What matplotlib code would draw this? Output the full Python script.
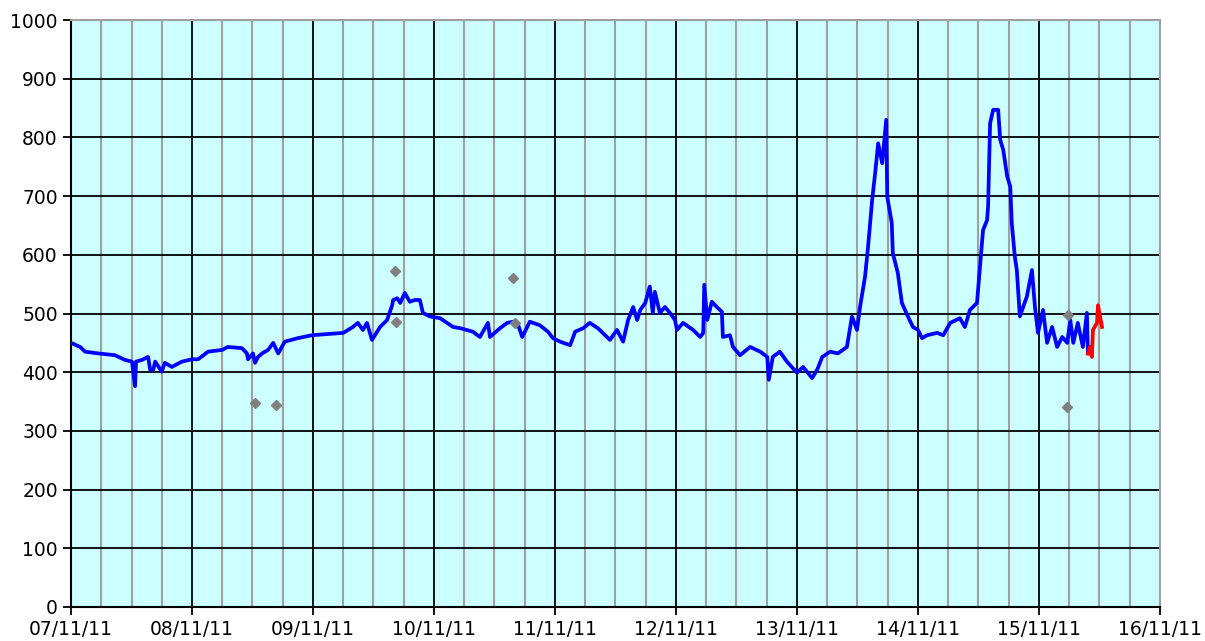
import matplotlib.pyplot as plt
from matplotlib.ticker import MultipleLocator

# Zeitachse in Stunden ab 07/11/11 00:00
tick_labels = ["07/11/11", "08/11/11", "09/11/11", "10/11/11", "11/11/11",
               "12/11/11", "13/11/11", "14/11/11", "15/11/11", "16/11/11"]

blue_h = [0, 1.8, 2.8, 5.4, 8.7, 10.7, 12.1, 12.7, 12.9, 14.1, 15.3, 15.7, 16.3, 16.7,
          18.0, 18.6, 20.0, 22.0, 24.0, 25.2, 27.2, 30.0, 31.1, 33.9, 34.9, 35.1, 36.1,
          36.5, 37.1, 37.9, 39.1, 40.1, 41.1, 42.4, 45.0, 47.8, 54.0, 55.9, 56.9, 57.9,
          58.7, 59.7, 61.3, 62.7, 63.7, 63.9, 64.7, 65.3, 66.2, 67.2, 68.2, 69.2, 69.8,
          71.2, 73.2, 75.8, 77.2, 79.7, 81.1, 82.7, 83.1, 85.1, 86.5, 87.7, 88.7, 89.5,
          91.0, 93.0, 94.6, 95.6, 97.0, 99.0, 100.0, 101.6, 102.9, 104.5, 106.9, 108.3,
          109.5, 110.5, 111.5, 112.3, 112.9, 113.9, 114.8, 115.4, 115.8, 116.8, 117.8,
          118.8, 119.8, 120.2, 121.4, 123.4, 124.8, 125.4, 125.6, 126.2, 127.1, 128.1,
          129.1, 129.3, 130.7, 131.3, 132.7, 134.7, 136.7, 138.1, 138.4, 139.2, 140.6,
          142.0, 144.0, 145.2, 147.0, 148.0, 149.0, 150.6, 152.1, 153.9, 154.9, 155.9,
          156.5, 157.5, 158.1, 158.9, 159.5, 160.1, 160.9, 161.7, 161.9, 162.8, 163.0,
          164.0, 164.8, 166.0, 167.0, 168.0, 168.8, 169.8, 171.8, 173.0, 174.4, 176.3,
          177.3, 178.3, 179.7, 180.3, 180.9, 181.7, 181.9, 182.3, 182.9, 183.9, 184.3,
          184.9, 185.7, 186.3, 186.6, 187.2, 187.6, 188.2, 189.6, 190.6, 191.2, 191.8,
          192.8, 193.6, 194.6, 195.6, 196.6, 197.6, 198.2, 198.8, 199.7, 200.7, 201.5,
          201.7]
blue_v = [450, 443, 435, 432, 429, 421, 418, 376, 418, 421, 426, 404, 404, 418,
          401, 416, 409, 418, 422, 422, 435, 438, 443, 441, 432, 422, 432,
          416, 426, 432, 438, 450, 432, 452, 458, 463, 467, 477, 484, 472,
          484, 455, 477, 489, 514, 523, 526, 518, 535, 520, 523, 523, 501,
          495, 492, 477, 475, 469, 460, 484, 460, 475, 484, 486, 480, 460,
          486, 480, 469, 458, 452, 446, 469, 475, 484, 475, 455, 472,
          452, 489, 511, 489, 506, 518, 546, 501, 537, 501, 511,
          501, 489, 472, 484, 472, 460, 467, 549, 489, 520, 511,
          503, 460, 463, 443, 429, 443, 435, 426, 387, 426, 435,
          418, 399, 409, 390, 404, 426, 435, 432, 443, 495, 472,
          511, 563, 614, 693, 739, 790, 756, 830, 699, 654, 603,
          569, 518, 495, 477, 472, 458, 463, 467, 463, 484, 492,
          477, 506, 518, 580, 642, 659, 682, 824, 847, 847, 796,
          779, 733, 716, 654, 597, 574, 495, 529, 574, 511, 467,
          506, 450, 477, 443, 460, 450, 489, 450, 484, 443, 501,
          432]

red_h = [201.7, 202.1, 202.5, 202.7, 203.5, 203.7, 204.5]
red_v = [432, 443, 426, 472, 484, 514, 477]

grey_h = [36.5, 40.6, 64.3, 64.4, 87.6, 88.0, 197.7, 197.5]
grey_v = [347, 344, 572, 485, 560, 484, 497, 341]

fig = plt.figure(figsize=(12.05, 6.41), dpi=100)
ax = fig.add_axes([71 / 1205, 34 / 641, 1089 / 1205, 587 / 641])
ax.set_facecolor("#CCFFFF")

ax.plot(blue_h, blue_v, color="#0000FF", lw=2.7, zorder=3)
ax.plot(red_h, red_v, color="#FF0000", lw=2.7, zorder=4)
ax.plot(grey_h, grey_v, "D", color="#808080", ms=5, ls="none", zorder=5)

ax.set_xlim(0, 216)
ax.set_ylim(0, 1000)
ax.set_xticks(range(0, 217, 24))
ax.set_xticklabels(tick_labels)
ax.xaxis.set_minor_locator(MultipleLocator(6))
ax.set_yticks(range(0, 1001, 100))

ax.grid(which="minor", axis="x", color="#A0A0A0", lw=1.5, zorder=1)
ax.grid(which="major", axis="x", color="black", lw=1.3, zorder=2)
ax.grid(which="major", axis="y", color="black", lw=1.3, zorder=2)
ax.set_axisbelow(True)

ax.tick_params(which="major", direction="out", length=6, width=1.3,
               labelsize=13.5, color="black", labelcolor="black")
ax.tick_params(which="minor", length=0)
for s in ["top", "right"]:
    ax.spines[s].set_color("#A0A0A0")
    ax.spines[s].set_linewidth(1.5)
for s in ["left", "bottom"]:
    ax.spines[s].set_color("black")
    ax.spines[s].set_linewidth(1.5)

plt.savefig("out.png", dpi=100)
